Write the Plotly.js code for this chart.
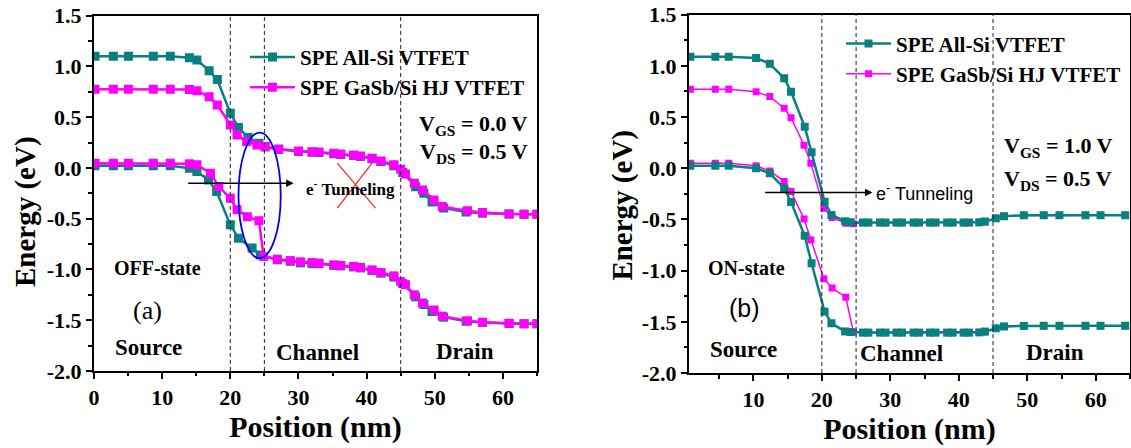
<!DOCTYPE html>
<html>
<head>
<meta charset="utf-8">
<script src="https://cdn.plot.ly/plotly-3.0.1.min.js"></script>
<style>html,body{margin:0;padding:0;background:#fff;}#chart{width:1131px;height:448px;}</style>
</head>
<body>
<div id="chart"></div>
<script>
// ---------- DATA ----------
const seriesNames = ["SPE All-Si VTFET", "SPE GaSb/Si HJ VTFET"];

// (a) OFF-state
const offSiCbX = [0.15,2.84,5.05,8.7,11.2,14.0,15.1,16.9,18.1,20.0,21.2,22.6,24.2,25.1,27.1,30.0,32.0,33.0,35.2,36.2,38.1,39.1,40.8,42.1,44.0,45.3,47.2,48.4,49.6,51.3,54.6,57.0,60.9,63.1,65.0];
const offSiCb  = [1.10,1.10,1.10,1.10,1.10,1.086,1.063,0.958,0.87,0.538,0.397,0.30,0.243,0.205,0.182,0.162,0.155,0.152,0.14,0.133,0.123,0.113,0.09,0.063,0.02,-0.045,-0.185,-0.25,-0.335,-0.395,-0.435,-0.447,-0.455,-0.456,-0.456];
const offSiVbX = [0.15,2.84,5.05,8.7,11.2,14.0,15.1,16.8,18.0,20.0,21.2,23.2,24.4,26.9,28.8,30.3,32.0,33.0,35.2,36.2,38.1,39.1,40.8,42.1,44.0,45.3,47.2,48.4,49.6,51.3,54.6,57.0,60.9,63.1,65.0];
const offSiVb  = [0.02,0.02,0.02,0.02,0.02,-0.003,-0.036,-0.118,-0.233,-0.561,-0.692,-0.79,-0.858,-0.905,-0.92,-0.935,-0.943,-0.943,-0.96,-0.965,-0.975,-0.985,-1.01,-1.037,-1.075,-1.14,-1.27,-1.345,-1.415,-1.47,-1.51,-1.522,-1.532,-1.536,-1.536];
const offGaCbX = [0.15,2.84,5.05,8.7,11.2,14.0,15.1,16.9,18.1,20.0,21.0,22.4,23.9,25.1,27.1,30.0,32.0,33.0,35.2,36.2,38.1,39.1,40.8,42.1,44.0,45.0,45.7,47.0,48.2,49.9,51.1,54.8,57.0,60.9,63.1,65.0];
const offGaCb  = [0.775,0.775,0.775,0.775,0.775,0.772,0.761,0.70,0.62,0.423,0.325,0.26,0.225,0.21,0.187,0.167,0.16,0.157,0.145,0.138,0.128,0.118,0.095,0.069,0.03,-0.013,-0.06,-0.15,-0.217,-0.315,-0.38,-0.423,-0.44,-0.453,-0.456,-0.456];
const offGaVbX = [0.15,2.84,5.05,8.7,11.2,14.0,15.1,17.1,18.3,20.0,21.0,22.5,24.2,24.9,26.9,28.8,30.3,32.0,33.0,35.2,36.2,38.1,39.1,40.8,42.1,44.0,45.0,45.7,47.0,48.2,49.9,51.1,54.8,57.0,60.9,63.1,65.0];
const offGaVb  = [0.045,0.045,0.045,0.045,0.045,0.042,0.03,-0.052,-0.184,-0.30,-0.413,-0.48,-0.52,-0.873,-0.9,-0.913,-0.925,-0.932,-0.938,-0.955,-0.96,-0.97,-0.98,-1.004,-1.03,-1.063,-1.12,-1.15,-1.25,-1.33,-1.40,-1.46,-1.506,-1.52,-1.53,-1.535,-1.535];

// (b) ON-state
const onSiX   = [0.8,4.45,6.4,10.4,12.4,14.5,15.5,17.5,18.5,20.4,21.4,23.4,24.2,26.0,26.8,28.5,29.3,30.9,31.7,33.4,34.2,35.8,36.6,38.3,39.1,40.7,41.5,43.0,43.8,45.4,46.6,49.5,52.4,54.7,58.5,60.7,64.3];
const onSiCb  = [1.09,1.09,1.09,1.078,1.02,0.879,0.748,0.406,0.156,-0.326,-0.456,-0.518,-0.527,-0.53,-0.53,-0.53,-0.53,-0.53,-0.53,-0.53,-0.53,-0.53,-0.53,-0.53,-0.53,-0.53,-0.53,-0.528,-0.52,-0.488,-0.468,-0.46,-0.459,-0.459,-0.459,-0.459,-0.459];
const onSiVb  = [0.025,0.025,0.025,0.0,-0.049,-0.195,-0.33,-0.66,-0.928,-1.40,-1.514,-1.594,-1.60,-1.605,-1.605,-1.605,-1.605,-1.605,-1.605,-1.605,-1.605,-1.605,-1.605,-1.605,-1.605,-1.605,-1.605,-1.603,-1.595,-1.563,-1.545,-1.54,-1.538,-1.538,-1.538,-1.538,-1.538];
const onGaX   = [0.8,4.45,6.4,10.4,12.4,14.5,15.5,17.4,18.4,20.3,21.5,23.5,24.6,26.0,26.8,28.5,29.3,30.9,31.7,33.4,34.2,35.8,36.6,38.3,39.1,40.7,41.5,43.0,43.8,45.4,46.6,49.5,52.4,54.7,58.5,60.7,64.3];
const onGaCb  = [0.771,0.771,0.771,0.748,0.70,0.586,0.494,0.225,0.05,-0.39,-0.482,-0.537,-0.543,-0.532,-0.532,-0.532,-0.532,-0.532,-0.532,-0.532,-0.532,-0.532,-0.532,-0.532,-0.532,-0.532,-0.532,-0.532,-0.525,-0.49,-0.47,-0.461,-0.46,-0.46,-0.46,-0.46,-0.46];
const onGaVb  = [0.049,0.049,0.049,0.025,-0.026,-0.13,-0.228,-0.495,-0.70,-1.08,-1.17,-1.26,-1.60,-1.607,-1.607,-1.607,-1.607,-1.607,-1.607,-1.607,-1.607,-1.607,-1.607,-1.607,-1.607,-1.607,-1.607,-1.605,-1.598,-1.565,-1.547,-1.541,-1.54,-1.54,-1.54,-1.54,-1.54];

// tick labels
const yTickVals = [-2.0,-1.5,-1.0,-0.5,0.0,0.5,1.0,1.5];
const yTickText = ["-2.0","-1.5","-1.0","-0.5","0.0","0.5","1.0","1.5"];
const yMinorVals = [-1.75,-1.25,-0.75,-0.25,0.25,0.75,1.25];
const xTickVals = [0,10,20,30,40,50,60];
const xTickText = ["0","10","20","30","40","50","60"];
const xMinorVals = [5,15,25,35,45,55,65];
const regionBounds = [20,25,45];

// ---------- STYLE ----------
const TEAL = '#088080';
const MAG = '#ff00ff';
const SERIF = 'Liberation Serif';
const SANS = 'Liberation Sans';

function tr(x, y, color, lw, ms, xa, ya, name, legend, showlegend, group, rank) {
  return {x: x, y: y, type: 'scatter', mode: 'lines+markers', name: name,
    xaxis: xa, yaxis: ya, legend: legend, showlegend: showlegend, legendgroup: group, legendrank: rank,
    line: {color: color, width: lw}, marker: {symbol: 'square', size: ms, color: color}};
}

const data = [
  // panel (a): teal first, magenta drawn on top
  tr(offSiCbX, offSiCb, TEAL, 2.5, 9, 'x', 'y', seriesNames[0], 'legend', true, 'a1', 1),
  tr(offSiVbX, offSiVb, TEAL, 2.5, 9, 'x', 'y', seriesNames[0], 'legend', false, 'a1', 1),
  tr(offGaCbX, offGaCb, MAG, 2.5, 9, 'x', 'y', seriesNames[1], 'legend', true, 'a2', 2),
  tr(offGaVbX, offGaVb, MAG, 2.5, 9, 'x', 'y', seriesNames[1], 'legend', false, 'a2', 2),
  // panel (b): magenta first, teal drawn on top
  tr(onGaX, onGaCb, MAG, 1.5, 7, 'x2', 'y2', seriesNames[1], 'legend2', true, 'b2', 2),
  tr(onGaX, onGaVb, MAG, 1.5, 7, 'x2', 'y2', seriesNames[1], 'legend2', false, 'b2', 2),
  tr(onSiX, onSiCb, TEAL, 2.5, 8, 'x2', 'y2', seriesNames[0], 'legend2', true, 'b1', 1),
  tr(onSiX, onSiVb, TEAL, 2.5, 8, 'x2', 'y2', seriesNames[0], 'legend2', false, 'b1', 1)
];

const tickFont = {family: SERIF, size: 22, weight: 'bold', color: 'black'};
const titleFont = {family: SERIF, size: 30, weight: 'bold', color: 'black'};
function xAxis(domain, range, anchor) {
  return {domain: domain, range: range, anchor: anchor, showline: true, linewidth: 2, linecolor: 'black', mirror: true,
    ticks: 'outside', ticklen: 6, tickwidth: 2, tickcolor: 'black', showgrid: false, zeroline: false,
    tickmode: 'array', tickvals: xTickVals, ticktext: xTickText, tickfont: tickFont,
    minor: {tickmode: 'array', tickvals: xMinorVals, ticks: 'outside', ticklen: 3.5, tickwidth: 2, tickcolor: 'black', showgrid: false},
    title: {text: 'Position (nm)', font: titleFont, standoff: 5}};
}
function yAxis(domain, anchor) {
  return {domain: domain, range: [-2, 1.5], anchor: anchor, showline: true, linewidth: 2, linecolor: 'black', mirror: true,
    ticks: 'outside', ticklen: 6, tickwidth: 2, tickcolor: 'black', showgrid: false, zeroline: false,
    tickmode: 'array', tickvals: yTickVals, ticktext: yTickText, tickfont: tickFont,
    minor: {tickmode: 'array', tickvals: yMinorVals, ticks: 'outside', ticklen: 3.5, tickwidth: 2, tickcolor: 'black', showgrid: false}};
}

const shapes = [];
regionBounds.forEach(function (b) {
  ['x', 'x2'].forEach(function (xa) {
    shapes.push({type: 'line', xref: xa, yref: (xa === 'x' ? 'y' : 'y2') + ' domain', x0: b, x1: b, y0: 0, y1: 1,
      line: {color: '#222', width: 1, dash: '4px,3px'}});
  });
});
// blue ellipse and red cross (panel a)
shapes.push({type: 'circle', xref: 'x', yref: 'y', x0: 21.2, x1: 27.4, y0: -0.889, y1: 0.347, line: {color: '#0000ee', width: 1.8}});
shapes.push({type: 'line', xref: 'x', yref: 'y', x0: 35.7, y0: 0.046, x1: 41.3, y1: -0.397, line: {color: '#ff2020', width: 1.2}});
shapes.push({type: 'line', xref: 'x', yref: 'y', x0: 35.7, y0: -0.397, x1: 40.8, y1: 0.046, line: {color: '#ff2020', width: 1.2}});

function txt(xr, yr, x, y, text, font) {
  return {xref: xr, yref: yr, x: x, y: y, text: text, showarrow: false, font: font, xanchor: 'center', yanchor: 'middle'};
}
const boldSerif = function (s) { return {family: SERIF, size: s, weight: 'bold', color: 'black'}; };
const annotations = [
  // y-axis titles
  {xref: 'paper', yref: 'paper', x: 0.0221, y: 0.529, text: 'Energy (eV)', textangle: -90, showarrow: false,
    font: boldSerif(29), xanchor: 'center', yanchor: 'middle'},
  {xref: 'paper', yref: 'paper', x: 0.5496, y: 0.5424, text: 'Energy (eV)', textangle: -90, showarrow: false,
    font: boldSerif(29), xanchor: 'center', yanchor: 'middle'},

  txt('x', 'y', 55.7, 0.42, 'V<sub>GS</sub> = 0.0 V', boldSerif(22)),
  txt('x', 'y', 55.7, 0.15, 'V<sub>DS</sub> = 0.5 V', boldSerif(22)),
  txt('x', 'y', 37.6, -0.20, 'e<sup>-</sup> Tunneling', boldSerif(17)),
  txt('x', 'y', 9.3, -0.987, 'OFF-state', boldSerif(20)),
  txt('x', 'y', 7.9, -1.40, '(a)', {family: SERIF, size: 26, color: 'black'}),
  txt('x', 'y', 8.0, -1.77, 'Source', boldSerif(23)),
  txt('x', 'y', 32.8, -1.82, 'Channel', boldSerif(23)),
  txt('x', 'y', 54.5, -1.81, 'Drain', boldSerif(23)),
  {xref: 'x', yref: 'y', axref: 'x', ayref: 'y', x: 29.3, y: -0.15, ax: 13.6, ay: -0.15, text: '', showarrow: true,
    arrowhead: 2, arrowsize: 1, arrowwidth: 1.5, arrowcolor: 'black'},

  txt('x2', 'y2', 54.5, 0.21, 'V<sub>GS</sub> = 1.0 V', boldSerif(22)),
  txt('x2', 'y2', 54.5, -0.114, 'V<sub>DS</sub> = 0.5 V', boldSerif(22)),
  txt('x2', 'y2', 35.0, -0.238, 'e<sup>-</sup> Tunneling', {family: SANS, size: 18, color: 'black'}),
  txt('x2', 'y2', 9.0, -0.977, 'ON-state', boldSerif(20)),
  txt('x2', 'y2', 8.75, -1.367, '(b)', {family: SANS, size: 25, color: 'black'}),
  txt('x2', 'y2', 8.5, -1.77, 'Source', boldSerif(23)),
  txt('x2', 'y2', 31.7, -1.81, 'Channel', boldSerif(23)),
  txt('x2', 'y2', 54.1, -1.80, 'Drain', boldSerif(23)),
  {xref: 'x2', yref: 'y2', axref: 'x2', ayref: 'y2', x: 27.4, y: -0.238, ax: 11.5, ay: -0.238, text: '', showarrow: true,
    arrowhead: 2, arrowsize: 1, arrowwidth: 1.5, arrowcolor: 'black'}
];

const legendBase = {bgcolor: 'rgba(0,0,0,0)', borderwidth: 0, xanchor: 'left', yanchor: 'top',
  font: {family: SERIF, size: 21, weight: 'bold', color: 'black'}, tracegroupgap: 0, itemwidth: 45};

const layout = {
  width: 1131, height: 448, margin: {l: 0, r: 0, t: 0, b: 0},
  paper_bgcolor: 'white', plot_bgcolor: 'white',
  font: {family: SERIF, color: 'black'},
  xaxis: xAxis([0.0831, 0.4748], [0, 65], 'y'),
  yaxis: yAxis([0.1719, 0.9652], 'x'),
  xaxis2: xAxis([0.6092, 0.9991], [0.6, 65], 'y2'),
  yaxis2: yAxis([0.1674, 0.9672], 'x2'),
  legend: Object.assign({}, legendBase, {x: 0.2166, y: 0.918}),
  legend2: Object.assign({}, legendBase, {x: 0.7436, y: 0.948}),
  shapes: shapes,
  annotations: annotations
};

Plotly.newPlot('chart', data, layout, {displayModeBar: false, staticPlot: true});
</script>
</body>
</html>
